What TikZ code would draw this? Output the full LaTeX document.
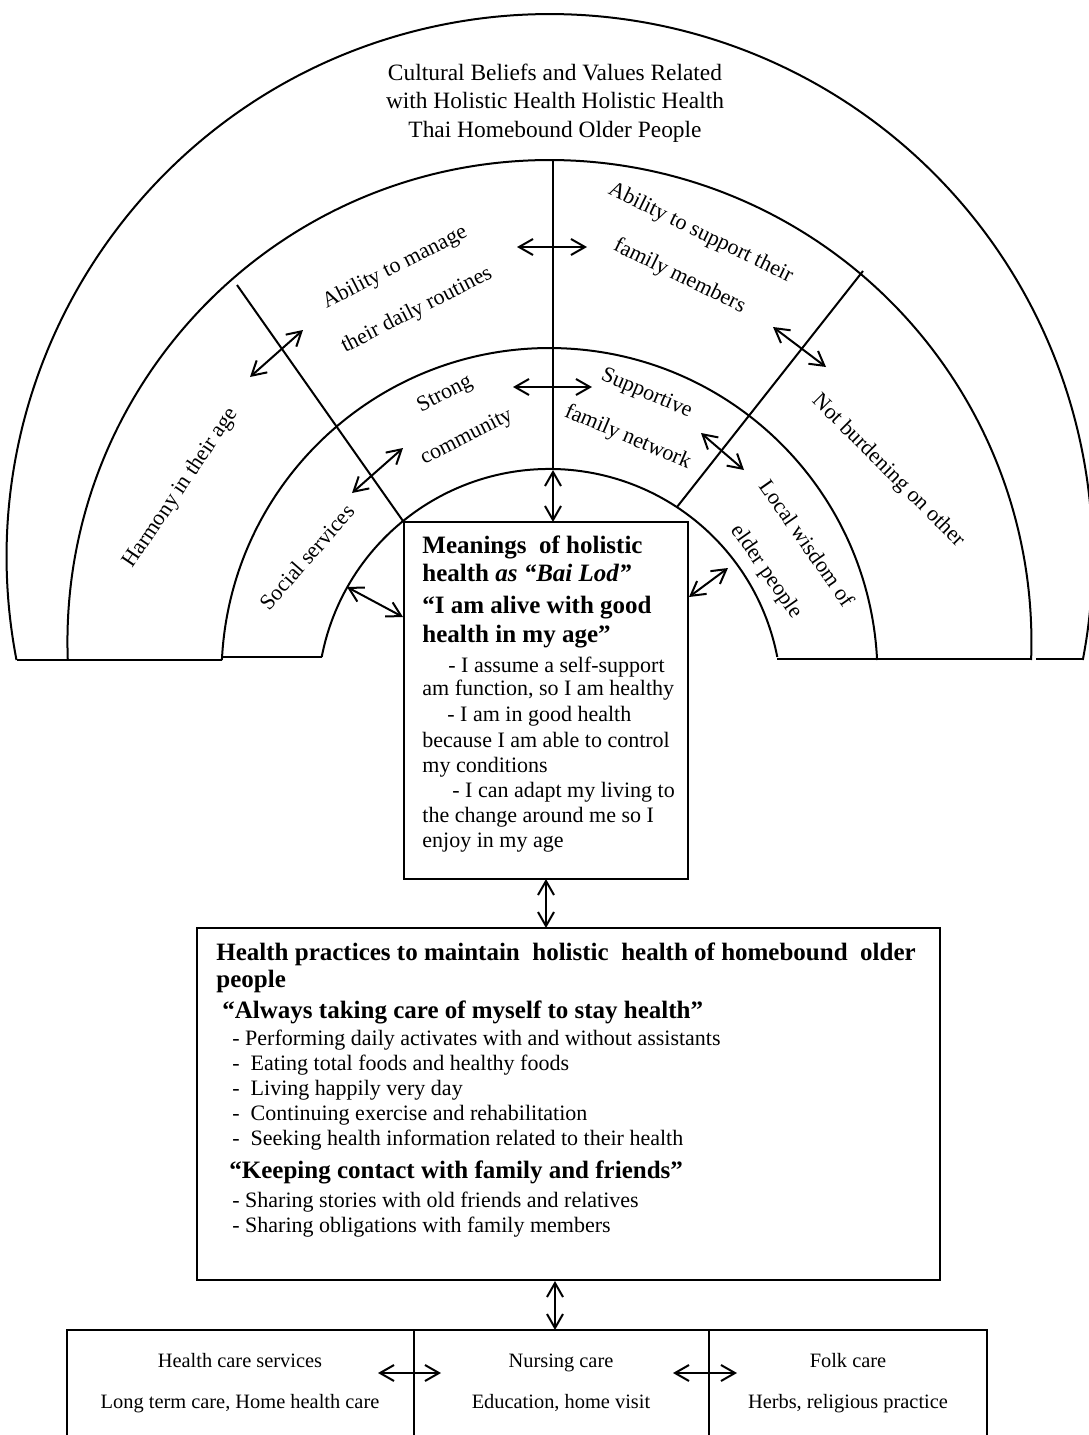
\documentclass[tikz,border=0pt]{standalone}
\usepackage{fontspec}
\setmainfont{Liberation Serif}
\usetikzlibrary{arrows.meta}
\begin{document}
\begin{tikzpicture}[x=0.5pt,y=-0.5pt,
  stroke1/.style={line width=1pt},
  dbl/.style={line width=1pt,{Straight Barb[length=7pt,width=8pt]}-{Straight Barb[length=7pt,width=8pt]}},
  framebox/.style={draw,line width=1pt,inner sep=0pt,outer sep=0pt,anchor=north west},
  lab/.style={font=\fontsize{11}{24}\selectfont,align=center,inner sep=0pt},
  ttl/.style={font=\fontsize{11.7}{14}\selectfont,anchor=base,inner sep=0pt},
  bh/.style={font=\fontsize{12.5}{14}\selectfont\bfseries,anchor=base west,inner sep=0pt},
  rg/.style={font=\fontsize{11}{13}\selectfont,anchor=base west,inner sep=0pt},
  bt/.style={font=\fontsize{10.2}{12}\selectfont,anchor=base,inner sep=0pt}
]
\useasboundingbox (0,0) rectangle (1088,1435);

% ---- arcs ----
\draw[stroke1] (16.5,660) arc[start angle=169.07,end angle=370.93,radius=543];
\draw[stroke1] (67.8,660) arc[start angle=177.86,end angle=362.14,radius=482];
\draw[stroke1] (221.9,660) arc[start angle=182.80,end angle=357.20,radius=328];
\draw[stroke1] (321.7,657) arc[start angle=190.93,end angle=349.07,radius=232];
% base lines
\draw[stroke1] (16.5,660) -- (221.9,660);
\draw[stroke1] (221.9,657) -- (321.7,657);
\draw[stroke1] (777.3,659) -- (1031.2,659);
\draw[stroke1] (1036,659) -- (1082.5,659);
% dividers
\draw[stroke1] (553,160) -- (553,469);
\draw[stroke1] (237,285) -- (403,521);
\draw[stroke1] (863,271) -- (677,507);

% ---- boxes ----
\node[framebox,minimum width=142pt,minimum height=178.5pt] (meanbox) at (404,522) {};
\node[framebox,minimum width=371.5pt,minimum height=176pt] (practbox) at (197,928) {};
\node[framebox,minimum width=173.5pt,minimum height=60pt] (hcsbox) at (67,1330) {};
\node[framebox,minimum width=147.5pt,minimum height=60pt] (nurbox) at (414,1330) {};
\node[framebox,minimum width=139pt,minimum height=60pt] (folkbox) at (709,1330) {};

% ---- title ----
\node[ttl] (t1) at (555,80) {Cultural Beliefs and Values Related};
\node[ttl] (t2) at (555,108) {with Holistic Health Holistic Health};
\node[ttl] (t3) at (555,137) {Thai Homebound Older People};

% ---- arc labels ----
\node[lab,rotate=27] (l1) at (406,289) {Ability to manage\\their daily routines};
\node[lab,rotate=27] (l2) at (456,416) {Strong\\community};
\node[lab,rotate=56] (l3) at (181,488) {Harmony in their age};
\node[lab,rotate=49] (l4) at (307,557) {Social services};
\node[lab,rotate=-26] (l5) at (690,255) {Ability to support their\\family members};
\node[lab,rotate=-23] (l6) at (637,416) {Supportive\\family network};
\node[lab,rotate=-45] (l7) at (888,471) {Not burdening on other};
\node[lab,rotate=-55] (l8) at (786,558) {Local wisdom of\\elder people};

% ---- meanings text ----
\node[bh] (m1) at (422,553) {Meanings~ of holistic};
\node[bh] (m2) at (422,581) {health \textit{as “Bai Lod”}};
\node[bh] (m3) at (422,613) {“I am alive with good};
\node[bh] (m4) at (422,642) {health in my age”};
\node[rg] (m5) at (448,672) {- I assume a self-support};
\node[rg] (m6) at (422,695) {am function, so I am healthy};
\node[rg] (m7) at (447,721) {- I am in good health};
\node[rg] (m8) at (422,747) {because I am able to control};
\node[rg] (m9) at (422,772) {my conditions};
\node[rg] (m10) at (452,797) {- I can adapt my living to};
\node[rg] (m11) at (422,822) {the change around me so I};
\node[rg] (m12) at (422,847) {enjoy in my age};

% ---- practices text ----
\node[bh] (h1) at (216,960) {Health practices to maintain~ holistic~ health of homebound~ older};
\node[bh] (h2) at (216,987) {people};
\node[bh] (h3) at (222,1018) {“Always taking care of myself to stay health”};
\node[rg] (h4) at (232,1045) {- Performing daily activates with and without assistants};
\node[rg] (h5) at (232,1070) {-~ Eating total foods and healthy foods};
\node[rg] (h6) at (232,1095) {-~ Living happily very day};
\node[rg] (h7) at (232,1120) {-~ Continuing exercise and rehabilitation};
\node[rg] (h8) at (232,1145) {-~ Seeking health information related to their health};
\node[bh] (h9) at (229,1178) {“Keeping contact with family and friends”};
\node[rg] (h10) at (232,1207) {- Sharing stories with old friends and relatives};
\node[rg] (h11) at (232,1232) {- Sharing obligations with family members};

% ---- bottom texts ----
\node[bt] (b1) at (240,1367) {Health care services};
\node[bt] (b2) at (240,1408) {Long term care, Home health care};
\node[bt] (n1) at (561,1367) {Nursing care};
\node[bt] (n2) at (561,1408) {Education, home visit};
\node[bt] (f1) at (848,1367) {Folk care};
\node[bt] (f2) at (848,1408) {Herbs, religious practice};

% ---- arrows ----
\coordinate (a1l) at (517,247); \coordinate (a1r) at (587,247);
\coordinate (a2l) at (513,387); \coordinate (a2r) at (592,387);
\coordinate (a3t) at (553,470);
\coordinate (a4a) at (250,377); \coordinate (a4b) at (303,330);
\coordinate (a5a) at (352,493); \coordinate (a5b) at (403,448);
\coordinate (a6a) at (347,587); \coordinate (a6b) at (403,617);
\coordinate (a7a) at (773,327); \coordinate (a7b) at (826,367);
\coordinate (a8a) at (701,433); \coordinate (a8b) at (744,470);
\coordinate (a9a) at (689,597); \coordinate (a9b) at (728,568);
\coordinate (a11t) at (555,1281);
\coordinate (a12l) at (378,1373); \coordinate (a12r) at (441,1373);
\coordinate (a13l) at (673,1373); \coordinate (a13r) at (737,1373);

\draw[dbl] (a1l) -- (a1r);
\draw[dbl] (a2l) -- (a2r);
\draw[dbl] (a3t) -- (a3t |- meanbox.north);
\draw[dbl] (a4a) -- (a4b);
\draw[dbl] (a5a) -- (a5b);
\draw[dbl] (a6a) -- (a6b);
\draw[dbl] (a7a) -- (a7b);
\draw[dbl] (a8a) -- (a8b);
\draw[dbl] (a9a) -- (a9b);
\draw[dbl] (meanbox.south) -- (meanbox.south |- practbox.north);
\draw[dbl] (a11t) -- (a11t |- nurbox.north);
\draw[dbl] (a12l) -- (a12r);
\draw[dbl] (a13l) -- (a13r);
\end{tikzpicture}
\end{document}
